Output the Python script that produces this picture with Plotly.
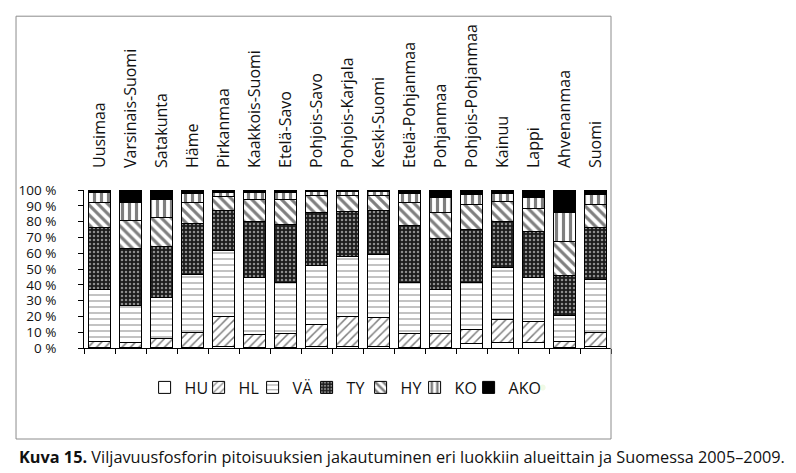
import plotly.graph_objects as go

regions = ["Uusimaa", "Varsinais-Suomi", "Satakunta", "Häme", "Pirkanmaa",
           "Kaakkois-Suomi", "Etelä-Savo", "Pohjois-Savo", "Pohjois-Karjala",
           "Keski-Suomi", "Etelä-Pohjanmaa", "Pohjanmaa", "Pohjois-Pohjanmaa",
           "Kainuu", "Lappi", "Ahvenanmaa", "Suomi"]

# share of each class per region, %
hu = [0.4, 0.3, 0.3, 0.4, 1.0, 0.5, 0.5, 1.0, 1.2, 1.0, 0.6, 0.6, 2.7, 3.2, 3.2, 0.5, 1.0]
hl = [4.0, 3.3, 5.6, 9.5, 18.7, 8.1, 8.8, 14.0, 18.5, 18.0, 8.7, 8.7, 9.3, 14.6, 13.7, 3.9, 9.1]
va = [32.6, 23.5, 25.8, 36.6, 42.2, 36.2, 32.3, 37.0, 38.0, 40.2, 32.1, 27.7, 29.4, 32.9, 27.9, 15.9, 33.2]
ty = [39.1, 35.7, 32.4, 32.4, 25.0, 35.1, 36.6, 33.6, 28.8, 28.1, 36.4, 32.3, 33.7, 29.6, 29.2, 25.8, 33.0]
hy = [16.1, 17.7, 18.4, 13.3, 8.9, 13.8, 15.5, 10.8, 9.9, 9.1, 14.4, 16.3, 15.8, 12.7, 14.4, 21.1, 14.6]
ko = [6.1, 11.9, 11.2, 5.3, 2.9, 4.6, 4.6, 2.5, 2.5, 2.5, 5.3, 9.5, 6.4, 4.9, 6.9, 18.4, 6.4]
ako = [1.7, 7.6, 6.3, 2.5, 1.3, 1.7, 1.7, 1.1, 1.1, 1.1, 2.5, 4.9, 2.7, 2.1, 4.7, 14.4, 2.7]

series = [
    ("HU", hu, dict(shape="", bgcolor="white", fgcolor="black")),
    ("HL", hl, dict(shape="/", bgcolor="white", fgcolor="black", size=6, solidity=0.25)),
    ("VÄ", va, dict(shape="-", bgcolor="white", fgcolor="#333333", size=6, solidity=0.2)),
    ("TY", ty, dict(shape=".", bgcolor="#1c1c1c", fgcolor="white", size=4, solidity=0.3)),
    ("HY", hy, dict(shape="\\", bgcolor="white", fgcolor="black", size=7, solidity=0.45)),
    ("KO", ko, dict(shape="|", bgcolor="white", fgcolor="black", size=7, solidity=0.45)),
    ("AKO", ako, None),
]

fig = go.Figure()
for name, vals, pat in series:
    marker = dict(color="white", line=dict(color="black", width=1))
    if pat is None:
        marker["color"] = "black"
    else:
        marker["pattern"] = pat
    fig.add_trace(go.Bar(name=name, x=regions, y=vals, marker=marker))

# empty legend slot so the last label is not clipped
fig.add_trace(go.Scatter(x=[None], y=[None], name=" ", mode="markers",
                         marker=dict(opacity=0), hoverinfo="skip"))

# invisible trace so the top label axis gets drawn
fig.add_trace(go.Scatter(x=list(range(len(regions))), y=[None] * len(regions),
                         xaxis="x2", showlegend=False, hoverinfo="skip"))

txt = "#111111"
fig.update_layout(
    width=796, height=473,
    barmode="stack", bargap=0.3,
    paper_bgcolor="white", plot_bgcolor="white",
    margin=dict(l=76, r=193, t=182, b=133, autoexpand=False),
    font=dict(family="Open Sans", size=16, color=txt),
    xaxis=dict(type="category", showticklabels=False, tickson="boundaries",
               ticks="outside", ticklen=5, tickcolor="black",
               showline=True, linecolor="black", linewidth=1, showgrid=False),
    xaxis2=dict(overlaying="x", side="top", range=[-0.5, len(regions) - 0.5],
                tickmode="array", tickvals=list(range(len(regions))), ticktext=regions,
                tickangle=-90, ticks="", showline=False, showgrid=False,
                zeroline=False, ticklabelstandoff=21,
                tickfont=dict(family="Open Sans", size=16, color=txt)),
    yaxis=dict(range=[0, 100], dtick=10, ticksuffix=" %", ticks="outside",
               ticklen=5, tickcolor="black", showline=True, linecolor="black",
               linewidth=1, showgrid=False, zeroline=False, ticklabelstandoff=19,
               tickfont=dict(family="Open Sans", size=13.5, color=txt)),
    legend=dict(orientation="h", x=0.115, xanchor="left", y=-0.25, yanchor="middle",
                font=dict(family="Open Sans", size=16, color=txt), traceorder="normal",
                entrywidth=9),
    shapes=[dict(type="rect", xref="paper", yref="paper",
                 x0=-0.129, x1=1.0, y0=-0.576, y1=2.10,
                 line=dict(color="#8c8c8c", width=1))],
    annotations=[dict(xref="paper", yref="paper", x=-0.127, y=-0.69,
                      xanchor="left", yanchor="middle", showarrow=False,
                      text="<b>Kuva 15.</b> Viljavuusfosforin pitoisuuksien jakautuminen eri luokkiin alueittain ja Suomessa 2005–2009.",
                      font=dict(family="Open Sans", size=16.3, color=txt))],
)

fig.write_html("out.html")
